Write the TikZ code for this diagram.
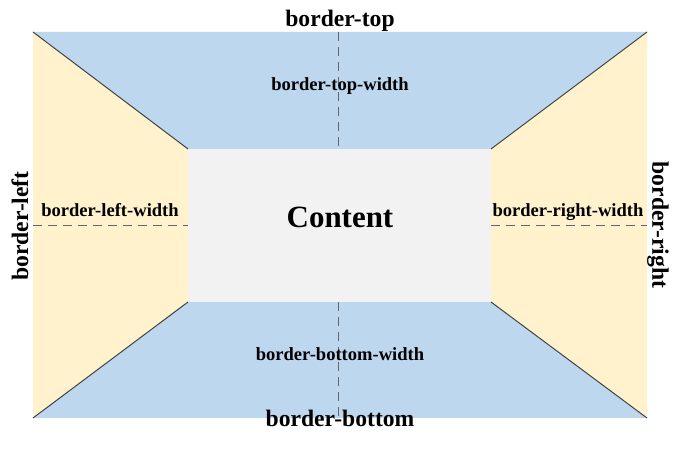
\documentclass[tikz,border=0pt]{standalone}
\usepackage{fontspec}
\setmainfont{Liberation Serif}

\definecolor{topblue}{HTML}{BDD7EE}
\definecolor{sideyellow}{HTML}{FFF2CC}
\definecolor{contentgray}{HTML}{F2F2F2}

\tikzset{
  biglabel/.style={font=\fontsize{16.8}{18}\selectfont\bfseries, inner sep=0pt},
  widthlabel/.style={font=\fontsize{13.2}{15}\selectfont\bfseries, inner sep=0pt, anchor=base},
  guide/.style={gray!80!black, line width=0.7pt, dash pattern=on 6.4pt off 4.3pt},
  bevel/.style={black!75, line width=0.7pt}
}

\begin{document}
\begin{tikzpicture}[x=0.025cm, y=-0.025cm]
    \useasboundingbox (0,0) rectangle (680,457);

    % Esquinas de la caja
    \coordinate (otl) at (33,32);   \coordinate (otr) at (647,32);
    \coordinate (obl) at (33,418);  \coordinate (obr) at (647,418);
    \coordinate (itl) at (188,149); \coordinate (itr) at (491,149);
    \coordinate (ibl) at (188,302); \coordinate (ibr) at (491,302);

    % Bordes
    \fill[topblue] (otl) -- (otr) -- (itr) -- (itl) -- cycle;
    \fill[topblue] (obl) -- (obr) -- (ibr) -- (ibl) -- cycle;
    \fill[sideyellow] (otl) -- (itl) -- (ibl) -- (obl) -- cycle;
    \fill[sideyellow] (otr) -- (itr) -- (ibr) -- (obr) -- cycle;
    \fill[contentgray] (itl) rectangle (ibr);

    % Aristas diagonales
    \foreach \a/\b in {otl/itl, otr/itr, obl/ibl, obr/ibr}
        \draw[bevel] (\a) -- (\b);

    % Guias de ancho
    \coordinate (gt1) at (338,32);  \coordinate (gt2) at (338,149);
    \coordinate (gb1) at (338,302); \coordinate (gb2) at (338,418);
    \coordinate (gl1) at (33,225);  \coordinate (gl2) at (188,225);
    \coordinate (gr1) at (491,225); \coordinate (gr2) at (647,225);
    \foreach \a/\b in {gt1/gt2, gb1/gb2, gl1/gl2, gr1/gr2}
        \draw[guide] (\a) -- (\b);

    % Etiquetas
    \node[biglabel, anchor=base] (top) at (340,27) {border-top};
    \node[biglabel, anchor=base] (bottom) at (340,427) {border-bottom};
    \node[biglabel, rotate=90] (left) at (20,226) {border-left};
    \node[biglabel, rotate=-90] (right) at (658,225) {border-right};

    \node[widthlabel] (topw) at (340,91) {border-top-width};
    \node[widthlabel] (bottomw) at (340,361) {border-bottom-width};
    \node[widthlabel] (leftw) at (110,217) {border-left-width};
    \node[widthlabel] (rightw) at (568,217) {border-right-width};

    \node[font=\fontsize{22}{24}\selectfont\bfseries, inner sep=0pt, anchor=base] (content) at (340,228) {Content};

\end{tikzpicture}
\end{document}
